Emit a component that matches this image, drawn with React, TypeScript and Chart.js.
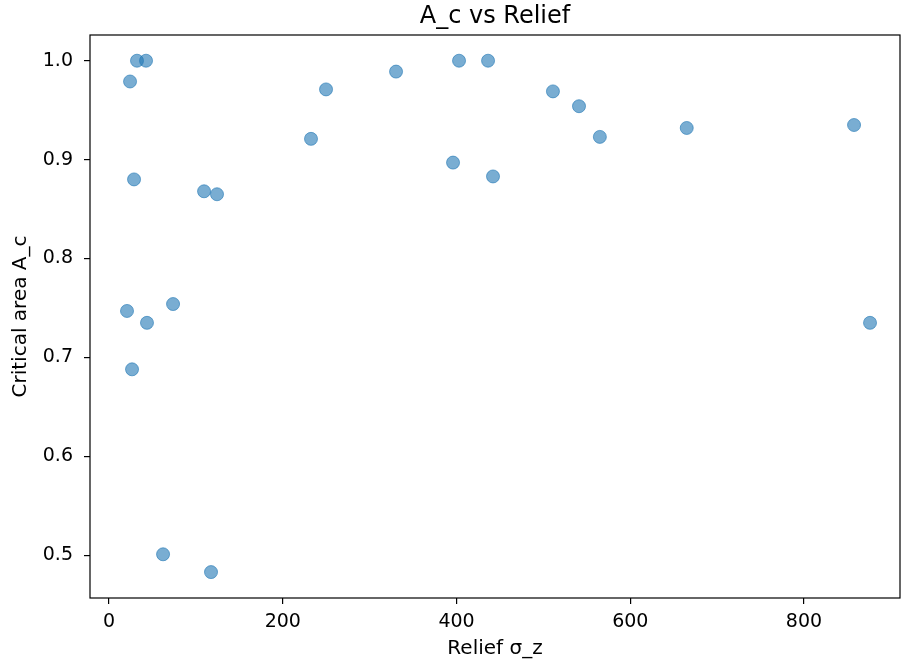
import React, { useEffect, useRef } from "react";
import { Chart, registerables } from "chart.js";

Chart.register(...registerables);

const reliefValues = [32.2, 42.6, 24.2, 28.8, 109.4, 124.3, 232.5, 249.8, 330.4, 402.9, 436.3, 396, 442, 511, 541, 565, 665, 857.6, 876, 20.7, 73.7, 43.7, 26.5, 62.2, 117.4];
const criticalArea = [1.0, 1.0, 0.979, 0.88, 0.868, 0.865, 0.921, 0.971, 0.989, 1.0, 1.0, 0.897, 0.883, 0.969, 0.954, 0.923, 0.932, 0.935, 0.735, 0.747, 0.754, 0.735, 0.688, 0.501, 0.483];

const xTicks = [0, 200, 400, 600, 800];
const yTicks = [0.5, 0.6, 0.7, 0.8, 0.9, 1.0];

const titleText = "A_c vs Relief";
const xLabel = "Relief σ_z";
const yLabel = "Critical area A_c";

const FONT = "'DejaVu Sans', sans-serif";

export default function App() {
  const ref = useRef<HTMLCanvasElement | null>(null);

  useEffect(() => {
    if (!ref.current) return;
    const points = reliefValues.map((x, i) => ({ x, y: criticalArea[i] }));

    const framePlugin = {
      id: "frame",
      afterDraw(chart: any) {
        const { ctx, chartArea } = chart;
        ctx.save();
        ctx.strokeStyle = "#000";
        ctx.lineWidth = 1.2;
        ctx.strokeRect(chartArea.left, chartArea.top, chartArea.right - chartArea.left, chartArea.bottom - chartArea.top);
        ctx.fillStyle = "#000";
        ctx.font = `24px ${FONT}`;
        ctx.textAlign = "center";
        ctx.textBaseline = "middle";
        ctx.fillText(titleText, (chartArea.left + chartArea.right) / 2, 17);
        ctx.restore();
      },
    };

    const chart = new Chart(ref.current, {
      type: "scatter",
      data: {
        datasets: [
          {
            data: points,
            backgroundColor: "rgba(31,119,180,0.6)",
            borderColor: "rgba(31,119,180,0.6)",
            borderWidth: 1,
            pointRadius: 6.5,
            pointHoverRadius: 6.5,
          },
        ],
      },
      options: {
        responsive: false,
        animation: false,
        layout: { autoPadding: false, padding: { top: 35, right: 1, left: 0, bottom: 0 } },
        plugins: {
          legend: { display: false },
          tooltip: { enabled: false },
          title: { display: false },
        },
        scales: {
          x: {
            type: "linear",
            min: -21.9,
            max: 910.5,
            afterBuildTicks: (scale: any) => {
              scale.ticks = xTicks.map((v) => ({ value: v }));
            },
            afterFit: (scale: any) => {
              scale.height = 65;
              scale.paddingLeft = 0;
              scale.paddingRight = 0;
            },
            border: { display: false },
            grid: { drawOnChartArea: false, drawTicks: true, tickLength: 6, color: "#000", lineWidth: 1.2 },
            ticks: { color: "#000", font: { family: FONT, size: 19 }, padding: 7, maxRotation: 0, autoSkip: false },
            title: { display: true, text: xLabel, color: "#000", font: { family: FONT, size: 20 }, padding: { top: 0, bottom: 2 } },
          },
          y: {
            type: "linear",
            min: 0.4568,
            max: 1.026,
            afterBuildTicks: (scale: any) => {
              scale.ticks = yTicks.map((v) => ({ value: v }));
            },
            afterFit: (scale: any) => {
              scale.width = 90;
              scale.paddingTop = 0;
              scale.paddingBottom = 0;
            },
            border: { display: false },
            grid: { drawOnChartArea: false, drawTicks: true, tickLength: 6, color: "#000", lineWidth: 1.2 },
            ticks: {
              color: "#000",
              font: { family: FONT, size: 19 },
              padding: 11,
              autoSkip: false,
              callback: (v: any) => Number(v).toFixed(1),
            },
            title: { display: true, text: yLabel, color: "#000", font: { family: FONT, size: 20 }, padding: { top: 9, bottom: 0 } },
          },
        },
      },
      plugins: [framePlugin],
    });
    return () => chart.destroy();
  }, []);

  return (
    <div style={{ position: "absolute", left: 0, top: 0, width: 901, height: 663, background: "#fff" }}>
      <canvas ref={ref} width={901} height={663} style={{ width: 901, height: 663, display: "block" }} />
    </div>
  );
}
